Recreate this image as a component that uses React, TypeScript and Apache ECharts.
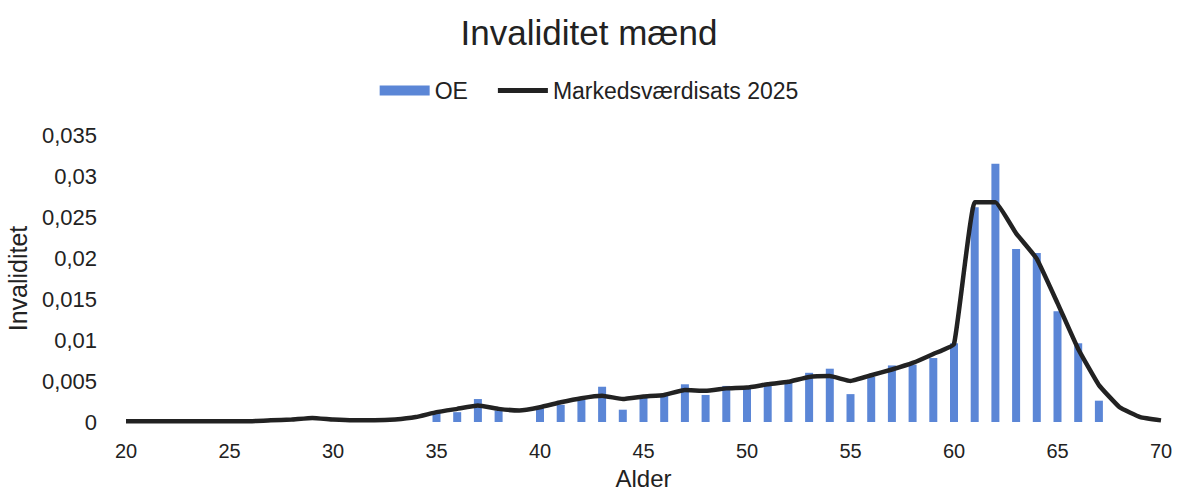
import React, { useEffect, useRef } from "react";
import * as echarts from "echarts";

const ages = [20, 21, 22, 23, 24, 25, 26, 27, 28, 29, 30, 31, 32, 33, 34, 35, 36, 37, 38, 39, 40, 41, 42, 43, 44, 45, 46, 47, 48, 49, 50, 51, 52, 53, 54, 55, 56, 57, 58, 59, 60, 61, 62, 63, 64, 65, 66, 67, 68, 69, 70];

const oeValues = [null, null, null, null, null, null, null, null, null, null, null, null, null, null, null,
  0.0012, 0.0012, 0.0028, 0.0014, null, 0.0017, 0.0021, 0.0027, 0.0043, 0.0015,
  0.0032, 0.0032, 0.0046, 0.0033, 0.0044, 0.0042, 0.0047, 0.0049, 0.0060, 0.0065,
  0.0034, 0.0055, 0.0069, 0.0070, 0.0078, 0.0096, 0.0262, 0.0315, 0.0211, 0.0206,
  0.0135, 0.0096, 0.0026, null, null, null];

const marketValues = [0.0001, 0.0001, 0.0001, 0.0001, 0.0001, 0.0001, 0.0001, 0.0002, 0.0003, 0.0005,
  0.0003, 0.0002, 0.0002, 0.0003, 0.0006, 0.0012, 0.0016, 0.0020, 0.0016, 0.0014,
  0.0018, 0.0024, 0.0029, 0.0032, 0.0028, 0.0031, 0.0033, 0.0039, 0.0038, 0.0041,
  0.0042, 0.0046, 0.0049, 0.0055, 0.0056, 0.0050, 0.0057, 0.0064, 0.0072, 0.0083,
  0.0095, 0.0268, 0.0268, 0.0230, 0.0199, 0.0145, 0.0089, 0.0045, 0.0018, 0.0006, 0.0002];

const FONT = "Liberation Sans, Arial, sans-serif";

export default function App() {
  const ref = useRef<HTMLDivElement>(null);
  useEffect(() => {
    document.body.style.margin = "0";
    const chart = echarts.init(ref.current!, null, { renderer: "svg" });
    chart.setOption({
      animation: false,
      textStyle: { fontFamily: FONT, color: "#222" },
      title: {
        text: "Invaliditet mænd",
        left: "center",
        top: 10,
        textStyle: { fontFamily: FONT, fontSize: 35, fontWeight: "normal", color: "#222" },
      },
      legend: {
        top: 74,
        left: "center",
        itemWidth: 50,
        itemHeight: 10,
        itemGap: 30,
        textStyle: { fontFamily: FONT, fontSize: 23, color: "#222" },
        data: [
          { name: "OE", icon: "rect" },
          { name: "Markedsværdisats 2025", icon: "path://M0,0 L0.01,0 L0.01,10 L0,10 Z M0,2.5 L50,2.5 L50,7.5 L0,7.5 Z" },
        ],
      },
      grid: { left: 126, right: 17, top: 135, bottom: 71, containLabel: false, outerBoundsMode: "none" },
      xAxis: {
        type: "value",
        min: 20,
        max: 70,
        interval: 5,
        name: "Alder",
        nameLocation: "middle",
        nameGap: 44,
        nameTextStyle: { fontFamily: FONT, fontSize: 24, color: "#222" },
        axisLine: { show: false },
        axisTick: { show: false },
        splitLine: { show: false },
        axisLabel: { fontFamily: FONT, fontSize: 20, color: "#222", margin: 19 },
      },
      yAxis: {
        type: "value",
        min: 0,
        max: 0.035,
        interval: 0.005,
        name: "Invaliditet",
        nameLocation: "middle",
        nameRotate: 90,
        nameGap: 96,
        nameTextStyle: { fontFamily: FONT, fontSize: 25, color: "#222" },
        axisLine: { show: false },
        axisTick: { show: false },
        splitLine: { show: false },
        axisLabel: {
          fontFamily: FONT,
          fontSize: 22,
          color: "#222",
          margin: 29,
          formatter: (v: number) => (v === 0 ? "0" : String(Number(v.toFixed(3))).replace(".", ",")),
        },
      },
      series: [
        {
          name: "OE",
          type: "bar",
          barWidth: 8,
          itemStyle: { color: "#5b86d6" },
          data: ages.map((a, i) => [a, oeValues[i]]),
          z: 2,
        },
        {
          name: "Markedsværdisats 2025",
          type: "line",
          symbol: "none",
          smooth: 0.1,
          lineStyle: { color: "#222", width: 4.5 },
          itemStyle: { color: "#222" },
          data: ages.map((a, i) => [a, marketValues[i]]),
          z: 3,
        },
      ],
    });
    return () => chart.dispose();
  }, []);
  return <div ref={ref} style={{ position: "absolute", left: 0, top: 0, width: 1178, height: 493 }} />;
}
